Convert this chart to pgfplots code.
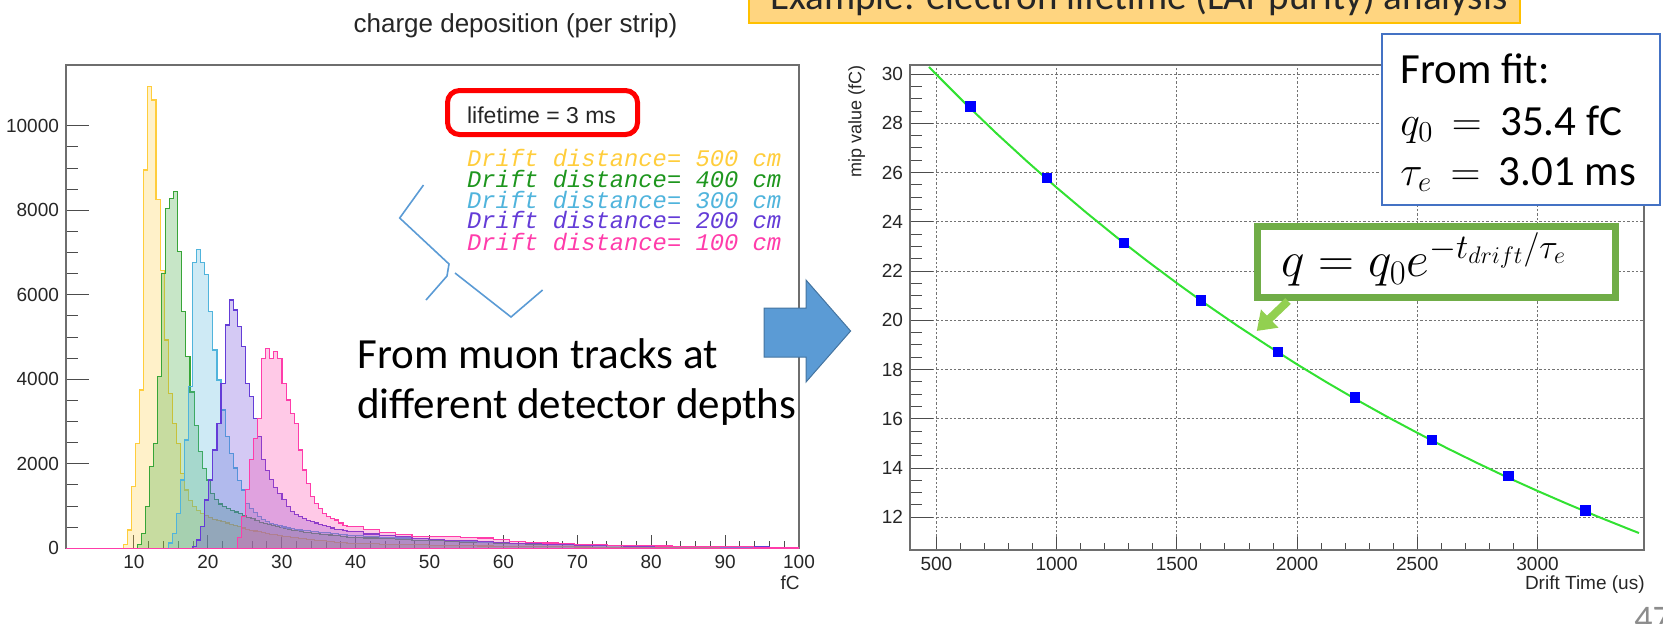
\documentclass[border=0pt]{standalone}
\usepackage{fontspec}
\setmainfont{Liberation Sans}
\newfontfamily\calibri{Carlito}
\newfontfamily\couri{Liberation Mono}
\usepackage{pgfplots}
\pgfplotsset{compat=1.18}
\usetikzlibrary{arrows.meta}
\definecolor{hyel}{RGB}{255,205,60}
\definecolor{hgre}{RGB}{55,165,55}
\definecolor{hblu}{RGB}{80,180,220}
\definecolor{hpur}{RGB}{100,60,215}
\definecolor{hpin}{RGB}{255,60,170}
\definecolor{tgre}{RGB}{30,150,30}
\definecolor{bannerfill}{RGB}{255,213,128}
\definecolor{bannerdraw}{RGB}{255,192,0}
\definecolor{arrowblue}{RGB}{91,155,213}
\definecolor{fitblue}{RGB}{68,114,196}
\definecolor{boxgreen}{RGB}{112,173,71}
\definecolor{arrowgreen}{RGB}{146,208,80}
\definecolor{fitgreen}{RGB}{50,225,50}
\definecolor{framegray}{RGB}{110,110,110}
\pgfplotsset{
  rootstyle/.style={
    scale only axis, anchor=south west,
    tick align=inside, tick pos=left,
    axis line style={draw=framegray, line width=0.7pt},
    x tick style={/pgfplots/major tick length=6.5pt,/pgfplots/minor tick length=3.5pt, draw=black!70, line width=0.5pt},
    y tick style={/pgfplots/major tick length=11.5pt,/pgfplots/minor tick length=6pt, draw=black!70, line width=0.5pt},
    tick label style={font=\fontsize{9.5}{11}\selectfont, text=black!85},
    /pgf/number format/assume math mode=true,
    /pgf/number format/1000 sep={},
    scaled ticks=false,
  },
  hist/.style={const plot mark left, draw=#1, line width=0.55pt, fill=#1, fill opacity=0.28, draw opacity=1},
}
\begin{document}
\begin{tikzpicture}
% ---------------- left histogram ----------------
\begin{axis}[rootstyle,
  at={(33pt,-274.15pt)}, width=366.5pt, height=241.65pt,
  xmin=0.8, xmax=100, ymin=0, ymax=11440,
  xtick={10,20,...,100}, minor x tick num=4,
  ytick={0,2000,...,10000}, minor y tick num=3,
]
\addplot[hist=hyel] coordinates {(0.8,0) (8.58,100) (9.13,433) (9.68,1458) (10.23,2485) (10.78,3747) (11.33,8955) (11.88,10926) (12.43,10611) (12.98,8260) (13.53,6571) (14.08,4930) (14.63,3670) (15.18,2960) (15.73,2490) (16.28,1780) (16.83,1380) (17.38,1140) (17.93,1000) (18.48,900) (19.03,830) (19.58,770) (20.13,720) (20.68,680) (21.23,650) (21.78,630) (22.33,600) (22.88,570) (23.43,540) (23.98,510) (24.53,480) (25.08,450) (25.63,430) (26.18,410) (26.73,390) (27.28,370) (27.83,350) (28.38,335) (28.93,320) (29.48,305) (30.03,290) (30.58,275) (31.13,262) (31.68,250) (32.23,238) (32.78,226) (33.33,215) (33.88,205) (34.43,195) (34.98,185) (35.53,175) (36.08,165) (36.63,155) (37.18,145) (37.73,137) (38.28,128) (38.83,120) (41.03,110) (43.23,100) (45.43,90) (47.63,82) (49.83,75) (52.03,68) (54.23,62) (56.43,56) (58.63,51) (60.83,46) (63.03,42) (65.23,38) (67.43,35) (69.63,32) (71.83,29) (74.03,27) (76.23,25) (78.43,23) (80.63,21) (82.83,19) (85.03,18) (87.23,17) (89.43,16) (91.63,15) (93.83,14) (96.03,13) (98.23,12) (100,12)} \closedcycle;
\addplot[hist=hgre] coordinates {(0.8,0) (10.43,100) (10.98,355) (11.53,985) (12.08,1932) (12.63,2485) (13.18,4062) (13.73,6509) (14.28,8048) (14.83,8284) (15.38,8441) (15.93,7021) (16.48,5600) (17.03,4535) (17.58,3700) (18.13,2900) (18.68,2300) (19.23,1894) (19.78,1617) (20.33,1300) (20.88,1150) (21.43,1050) (21.98,990) (22.53,940) (23.08,900) (23.63,860) (24.18,820) (24.73,780) (25.28,740) (25.83,700) (26.38,660) (26.93,620) (27.48,590) (28.03,560) (28.58,530) (29.13,510) (29.68,490) (30.23,470) (30.78,450) (31.33,430) (31.88,415) (32.43,400) (32.98,385) (33.53,370) (34.08,355) (34.63,345) (35.18,335) (35.73,325) (36.28,315) (36.83,305) (37.38,295) (37.93,285) (38.48,278) (38.83,265) (41.03,245) (43.23,225) (45.43,205) (47.63,190) (49.83,175) (52.03,160) (54.23,145) (56.43,132) (58.63,120) (60.83,108) (63.03,97) (65.23,88) (67.43,80) (69.63,72) (71.83,65) (74.03,59) (76.23,54) (78.43,49) (80.63,45) (82.83,41) (85.03,38) (87.23,35) (89.43,32) (91.63,30) (93.83,28) (96.03,26) (98.23,24) (100,24)} \closedcycle;
\addplot[hist=hblu] coordinates {(0.8,0) (14.63,125) (15.18,360) (15.73,828) (16.28,1617) (16.83,2563) (17.38,3825) (17.93,6760) (18.48,7077) (19.03,6760) (19.58,6485) (20.13,5600) (20.68,4694) (21.23,3984) (21.78,3274) (22.33,2642) (22.88,2249) (23.43,1900) (23.98,1600) (24.53,1380) (25.08,1065) (25.63,950) (26.18,850) (26.73,760) (27.28,690) (27.83,640) (28.38,592) (28.93,560) (29.48,530) (30.03,505) (30.58,480) (31.13,460) (31.68,440) (32.23,433) (32.78,425) (33.33,415) (33.88,405) (34.43,395) (34.98,385) (35.53,375) (36.08,365) (36.63,355) (37.18,345) (37.73,335) (38.28,325) (38.83,310) (41.03,285) (43.23,265) (45.43,245) (47.63,225) (49.83,205) (52.03,185) (54.23,165) (56.43,150) (58.63,135) (60.83,120) (63.03,105) (65.23,92) (67.43,82) (69.63,74) (71.83,66) (74.03,60) (76.23,54) (78.43,49) (80.63,45) (82.83,41) (85.03,38) (87.23,35) (89.43,32) (91.63,30) (93.83,28) (96.03,26) (98.23,24) (100,24)} \closedcycle;
\addplot[hist=hpur] coordinates {(0.8,0) (17.93,50) (18.48,196) (19.03,511) (19.58,1143) (20.13,1617) (20.68,2327) (21.23,2958) (21.78,3906) (22.33,5286) (22.88,5878) (23.43,5641) (23.98,5246) (24.53,4772) (25.08,3906) (25.63,3589) (26.18,3077) (26.73,2642) (27.28,2100) (27.83,1850) (28.38,1620) (28.93,1450) (29.48,1300) (30.03,1150) (30.58,1000) (31.13,870) (31.68,800) (32.23,750) (32.78,700) (33.33,660) (33.88,630) (34.43,600) (34.98,560) (35.53,530) (36.08,511) (36.63,480) (37.18,455) (37.73,435) (38.28,420) (38.83,400) (41.03,340) (43.23,300) (45.43,270) (47.63,240) (49.83,215) (52.03,195) (54.23,178) (56.43,160) (58.63,140) (60.83,120) (63.03,105) (65.23,90) (67.43,80) (69.63,72) (71.83,65) (74.03,58) (76.23,52) (78.43,48) (80.63,45) (82.83,42) (85.03,40) (87.23,37) (89.43,35) (91.63,33) (93.83,31) (96.03,29) (98.23,27) (100,27)} \closedcycle;
\addplot[hist=hpin] coordinates {(0.8,0) (23.98,250) (24.53,748) (25.08,1400) (25.63,2100) (26.18,2604) (26.73,3077) (27.28,4497) (27.83,4734) (28.38,4497) (28.93,4654) (29.48,4497) (30.03,3906) (30.58,3510) (31.13,3195) (31.68,2958) (32.23,2327) (32.78,1853) (33.33,1538) (33.88,1221) (34.43,1065) (34.98,950) (35.53,828) (36.08,748) (36.63,700) (37.18,670) (37.73,600) (38.28,550) (38.83,520) (41.03,450) (43.23,380) (45.43,320) (47.63,285) (49.83,270) (52.03,270) (54.23,262) (56.43,245) (58.63,215) (60.83,170) (63.03,145) (65.23,125) (67.43,112) (69.63,100) (71.83,88) (74.03,76) (76.23,68) (78.43,60) (80.63,54) (82.83,50) (85.03,45) (87.23,42) (89.43,38) (91.63,34) (93.83,30) (96.03,27) (98.23,24) (100,24)} \closedcycle;
\end{axis}
% ---------------- right fit plot ----------------
\begin{axis}[rootstyle,
  at={(455pt,-275pt)}, width=367pt, height=242.5pt,
  xmin=390, xmax=3443, ymin=10.67, ymax=30.37,
  xtick={500,1000,...,3000}, minor x tick num=4,
  ytick={12,14,...,30}, minor y tick num=3,
  grid=major, major grid style={dash pattern=on 1.2pt off 1pt, draw=black!55, line width=0.4pt},
]
\addplot[no marks, color=fitgreen, line width=1pt] coordinates {(469,30.29) (500,29.98) (625,28.76) (750,27.59) (875,26.47) (1000,25.39) (1125,24.36) (1250,23.37) (1375,22.42) (1500,21.51) (1625,20.63) (1750,19.79) (1875,18.99) (2000,18.21) (2125,17.47) (2250,16.76) (2375,16.08) (2500,15.43) (2625,14.80) (2750,14.20) (2875,13.62) (3000,13.07) (3125,12.54) (3250,12.03) (3375,11.54) (3422,11.36)};
\addplot[only marks, mark=square*, mark size=2.4pt, color=blue] coordinates {(640,28.70) (960,25.79) (1280,23.15) (1600,20.82) (1920,18.72) (2240,16.87) (2560,15.14) (2880,13.68) (3200,12.27)};
\end{axis}
% ---------------- annotations (pixel coordinates) ----------------
\begin{scope}[x=0.5pt,y=-0.5pt]
\node[anchor=base, inner sep=0, font=\fontsize{13}{15}\selectfont, text=black!85] at (515.5,32) {charge deposition (per strip)};
\draw[red, line width=2.5pt, rounded corners=6pt] (447.5,90.5) rectangle (637.5,134.5);
\node[anchor=base west, inner sep=0, font=\fontsize{11.5}{13}\selectfont, text=black!85] at (466.7,123.3) {lifetime = 3 ms};
\node[anchor=base west, inner sep=0, font=\couri\itshape\fontsize{11.9}{12}\selectfont, text=hyel] at (466.7,166.7) {Drift distance= 500 cm};
\node[anchor=base west, inner sep=0, font=\couri\itshape\fontsize{11.9}{12}\selectfont, text=tgre] at (466.7,187.3) {Drift distance= 400 cm};
\node[anchor=base west, inner sep=0, font=\couri\itshape\fontsize{11.9}{12}\selectfont, text=hblu] at (466.7,208.3) {Drift distance= 300 cm};
\node[anchor=base west, inner sep=0, font=\couri\itshape\fontsize{11.9}{12}\selectfont, text=hpur] at (466.7,228.3) {Drift distance= 200 cm};
\node[anchor=base west, inner sep=0, font=\couri\itshape\fontsize{11.9}{12}\selectfont, text=hpin] at (466.7,250) {Drift distance= 100 cm};
\draw[arrowblue, line width=0.8pt] (423.5,185) -- (399.7,218) -- (449,264) -- (447,276) -- (426,300);
\draw[arrowblue, line width=0.8pt] (455,273) -- (511,317) -- (542.6,290);
\node[anchor=base west, inner sep=0, font=\calibri\fontsize{21.5}{25}\selectfont] at (357,368) {From muon tracks at};
\node[anchor=base west, inner sep=0, font=\calibri\fontsize{21.5}{25}\selectfont] at (357,418) {different detector depths};
\filldraw[fill=arrowblue, draw=arrowblue!75!black, line width=0.5pt] (764,308) -- (806,308) -- (806,280) -- (850.6,331) -- (806,382) -- (806,357) -- (764,357) -- cycle;
\filldraw[fill=bannerfill, draw=bannerdraw, line width=1pt] (749,-30) rectangle (1520,23.3);
\node[anchor=base west, inner sep=0, font=\calibri\fontsize{19.5}{22}\selectfont, text=black!85] at (770,9) {Example: electron lifetime (LAr purity) analysis};
\filldraw[fill=white, draw=fitblue, line width=0.9pt] (1381.7,34) rectangle (1660,205);
\node[anchor=base west, inner sep=0, font=\calibri\fontsize{21.5}{25}\selectfont] at (1400,83) {From fit:};
\node[anchor=base west, inner sep=0, font=\calibri\fontsize{21.5}{25}\selectfont] at (1400,135) {$q_0 \,=\, \mbox{35.4 fC}$};
\node[anchor=base west, inner sep=0, font=\calibri\fontsize{21.5}{25}\selectfont] at (1400,185) {$\tau_e \,=\, \mbox{3.01 ms}$};
\filldraw[fill=white, draw=boxgreen, line width=3.5pt] (1257,226.3) rectangle (1615.5,297);
\node[anchor=base west, inner sep=0, font=\fontsize{25}{28}\selectfont] at (1281,276.7) {$q = q_0 e^{-t_{drift}/\tau_e}$};
\draw[-{Triangle[length=9pt,width=12pt]}, line width=4pt, arrowgreen] (1288,301) -- (1256.7,331);
\node[rotate=90, anchor=north east, inner sep=0, font=\fontsize{9}{10}\selectfont, text=black!85] at (848,65) {mip value (fC)};
\node[anchor=north east, inner sep=0, font=\fontsize{9.5}{11}\selectfont, text=black!85] at (1645,575) {Drift Time (us)};
\node[anchor=north east, inner sep=0, font=\fontsize{9.5}{11}\selectfont, text=black!85] at (800,575) {fC};
\node[anchor=base west, inner sep=0, font=\calibri\fontsize{18}{20}\selectfont, text=black!45] at (1634,630) {47};
\pgfresetboundingbox
\useasboundingbox (0,0) rectangle (1663,623);
\end{scope}
\end{tikzpicture}
\end{document}
